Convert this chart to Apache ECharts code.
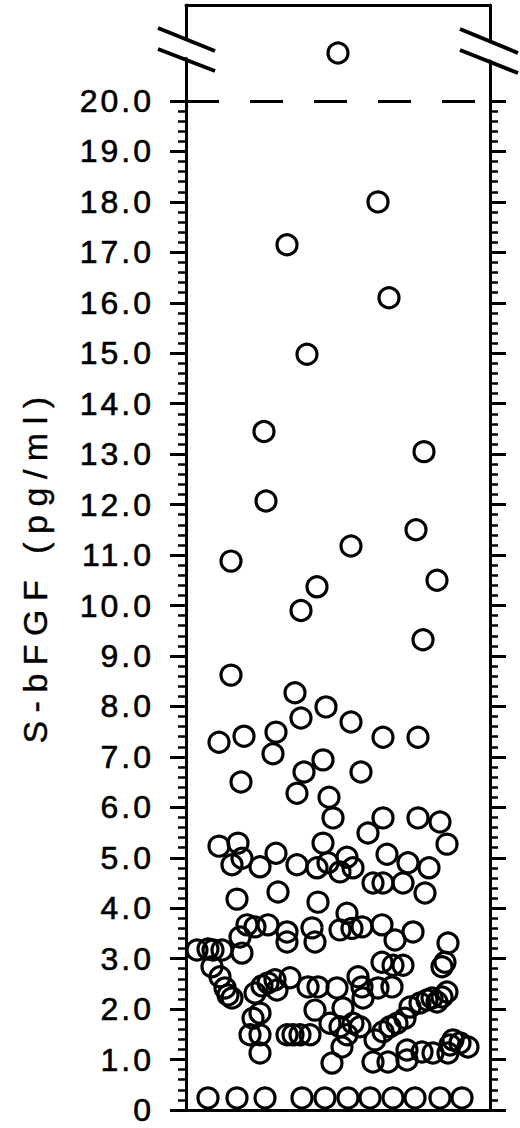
<!DOCTYPE html>
<html><head><meta charset="utf-8">
<script src="https://cdn.jsdelivr.net/npm/echarts@6/dist/echarts.min.js"></script>
<style>html,body{margin:0;padding:0;background:#fff}#c{width:520px;height:1128px}</style>
</head><body><div id="c"></div>
<script>
// ---- data ----
const yTitle = 'S-bFGF (pg/ml)';
const yTickLabels = ['0','1.0','2.0','3.0','4.0','5.0','6.0','7.0','8.0','9.0','10.0',
  '11.0','12.0','13.0','14.0','15.0','16.0','17.0','18.0','19.0','20.0'];
// horizontal jitter position of each subject (arbitrary units) and its S-bFGF value (pg/ml)
const jitterX = [
  192,101,203,121,78,238,80,230,165,45,251,131,115,237,45,
  109,140,165,115,33,58,90,87,197,232,137,118,175,55,111,143,
  147,197,182,232,254,261,33,52,137,
  46,56,74,90,111,131,142,154,161,167,201,222,243,187,197,217,239,51,92,132,
  11,22,27,36,26,34,39,46,42,56,54,61,69,82,101,101,126,129,161,154,166,176,196,209,227,262,196,207,217,256,259,
  69,76,82,89,91,104,122,132,151,172,176,177,192,206,
  74,67,129,157,144,154,167,174,161,156,146,
  64,74,101,107,114,124,74,
  189,197,204,211,219,224,234,241,246,251,256,261,
  187,202,221,221,236,247,262,267,274,282,264,
  22,51,79,116,139,162,184,207,229,254,276
];
const sbfgf = [
  18.0,17.15,16.1,14.98,13.45,13.05,12.07,11.5,11.18,10.88,10.5,10.37,9.9,9.32,8.62,
  8.27,7.99,7.69,7.77,7.29,7.41,7.49,7.06,7.39,7.39,6.94,6.70,6.70,6.50,6.28,6.20,
  5.79,5.79,5.49,5.79,5.71,5.27,5.23,5.29,5.29,
  4.86,4.99,4.82,5.09,4.86,4.80,4.90,4.72,5.01,4.80,5.07,4.90,4.80,4.50,4.50,4.50,4.30,4.18,4.32,4.12,
  3.17,3.19,3.17,3.17,2.84,2.64,2.42,2.22,2.28,3.11,3.43,3.67,3.63,3.67,3.53,3.33,3.61,3.33,3.90,3.57,3.60,3.63,3.67,3.37,3.53,3.31,2.93,2.87,2.87,2.84,2.93,
  2.32,2.46,2.52,2.58,2.38,2.62,2.44,2.44,2.42,2.64,2.44,2.22,2.42,2.44,
  1.92,1.82,1.98,2.02,1.72,1.65,1.72,1.65,1.49,1.25,0.93,
  1.49,1.49,1.49,1.49,1.49,1.49,1.13,
  1.39,1.55,1.65,1.72,1.82,2.04,2.12,2.18,2.22,2.14,2.24,2.34,
  0.95,0.95,0.99,1.19,1.15,1.13,1.13,1.39,1.33,1.25,1.29,
  0.24,0.24,0.24,0.24,0.24,0.24,0.24,0.24,0.24,0.24,0.24
];
// value above the axis break
const aboveBreakX = [152];
const aboveBreakVal = [20.95];
const breakAt = 20;

// ---- chart ----
const chart = echarts.init(document.getElementById('c'), null, {renderer: 'svg'});
const FONT = '"Liberation Sans", Arial, Helvetica, sans-serif';
const black = '#000';
const mainData = jitterX.map((x, i) => [x, sbfgf[i]]);
const topData = aboveBreakX.map((x, i) => [x, aboveBreakVal[i]]);
const lineOnly = {
  axisLine: {show: true, lineStyle: {color: black, width: 3}},
  axisTick: {show: false}, axisLabel: {show: false}, splitLine: {show: false}
};
const tickedAxis = (pos, labels) => ({
  type: 'value', gridIndex: 0, position: pos, min: 0, max: breakAt, interval: 1,
  axisLine: {show: true, onZero: false, lineStyle: {color: black, width: 3}},
  axisTick: {show: true, inside: false, length: 16, lineStyle: {color: black, width: 3}},
  minorTick: {show: true, splitNumber: 5, length: 8, lineStyle: {color: black, width: 2.5}},
  splitLine: {show: false},
  axisLabel: labels ? {
    show: true, margin: 32, color: black, fontSize: 32, fontFamily: FONT,
    textBorderColor: black, textBorderWidth: 0.6,
    padding: [8, 0, 0, 0],
    formatter: (v) => yTickLabels[Math.round(v)]
  } : {show: false}
});
const sym = {
  type: 'scatter', symbol: 'circle', symbolSize: 20, clip: false, silent: true,
  itemStyle: {color: 'rgba(0,0,0,0)', borderColor: black, borderWidth: 3.2, opacity: 1}
};
chart.setOption({
  animation: false,
  backgroundColor: '#fff',
  grid: [
    {left: 186, top: 101, width: 304, height: 1009},
    {left: 186, top: 5, width: 304, height: 96}
  ],
  xAxis: [
    Object.assign({type: 'value', gridIndex: 0, position: 'bottom', min: 0, max: 304}, lineOnly),
    Object.assign({type: 'value', gridIndex: 1, position: 'top', min: 0, max: 304}, lineOnly)
  ],
  yAxis: [
    tickedAxis('left', true),
    tickedAxis('right', false),
    Object.assign({type: 'value', gridIndex: 1, position: 'left', min: breakAt, max: breakAt + 96 / 50.45}, lineOnly),
    Object.assign({type: 'value', gridIndex: 1, position: 'right', min: breakAt, max: breakAt + 96 / 50.45}, lineOnly)
  ],
  series: [
    Object.assign({}, sym, {
      xAxisIndex: 0, yAxisIndex: 0, data: mainData,
      markLine: {
        silent: true, symbol: ['none', 'none'], label: {show: false},
        lineStyle: {color: black, width: 3, type: [33, 31]},
        data: [{yAxis: breakAt}]
      }
    }),
    Object.assign({}, sym, {xAxisIndex: 1, yAxisIndex: 2, data: topData})
  ],
  graphic: [
    {type: 'polygon', z: 100, shape: {points: [[176, 35], [198, 44], [198, 62], [176, 53]]}, style: {fill: '#fff'}},
    {type: 'polygon', z: 100, shape: {points: [[479, 37], [501, 46], [501, 64], [479, 55]]}, style: {fill: '#fff'}},
    {type: 'line', z: 101, shape: {x1: 158, y1: 28, x2: 215, y2: 51}, style: {stroke: black, lineWidth: 4}},
    {type: 'line', z: 101, shape: {x1: 158, y1: 49, x2: 215, y2: 71}, style: {stroke: black, lineWidth: 4}},
    {type: 'line', z: 101, shape: {x1: 460, y1: 29, x2: 518, y2: 53}, style: {stroke: black, lineWidth: 4}},
    {type: 'line', z: 101, shape: {x1: 460, y1: 50, x2: 518, y2: 73}, style: {stroke: black, lineWidth: 4}},
    {type: 'text', z: 101, x: 35, y: 566, rotation: Math.PI / 2,
      style: {text: yTitle, fill: black, font: '34px ' + FONT, textAlign: 'center', textVerticalAlign: 'middle',
        stroke: black, lineWidth: 0.4}}
  ]
});
function spaceText() {
  document.querySelectorAll('#c svg text').forEach(t => {
    t.setAttribute('letter-spacing', t.textContent === yTitle ? '8.5' : '3');
  });
}
chart.on('finished', spaceText);
setTimeout(spaceText, 50);
</script>
</body></html>
